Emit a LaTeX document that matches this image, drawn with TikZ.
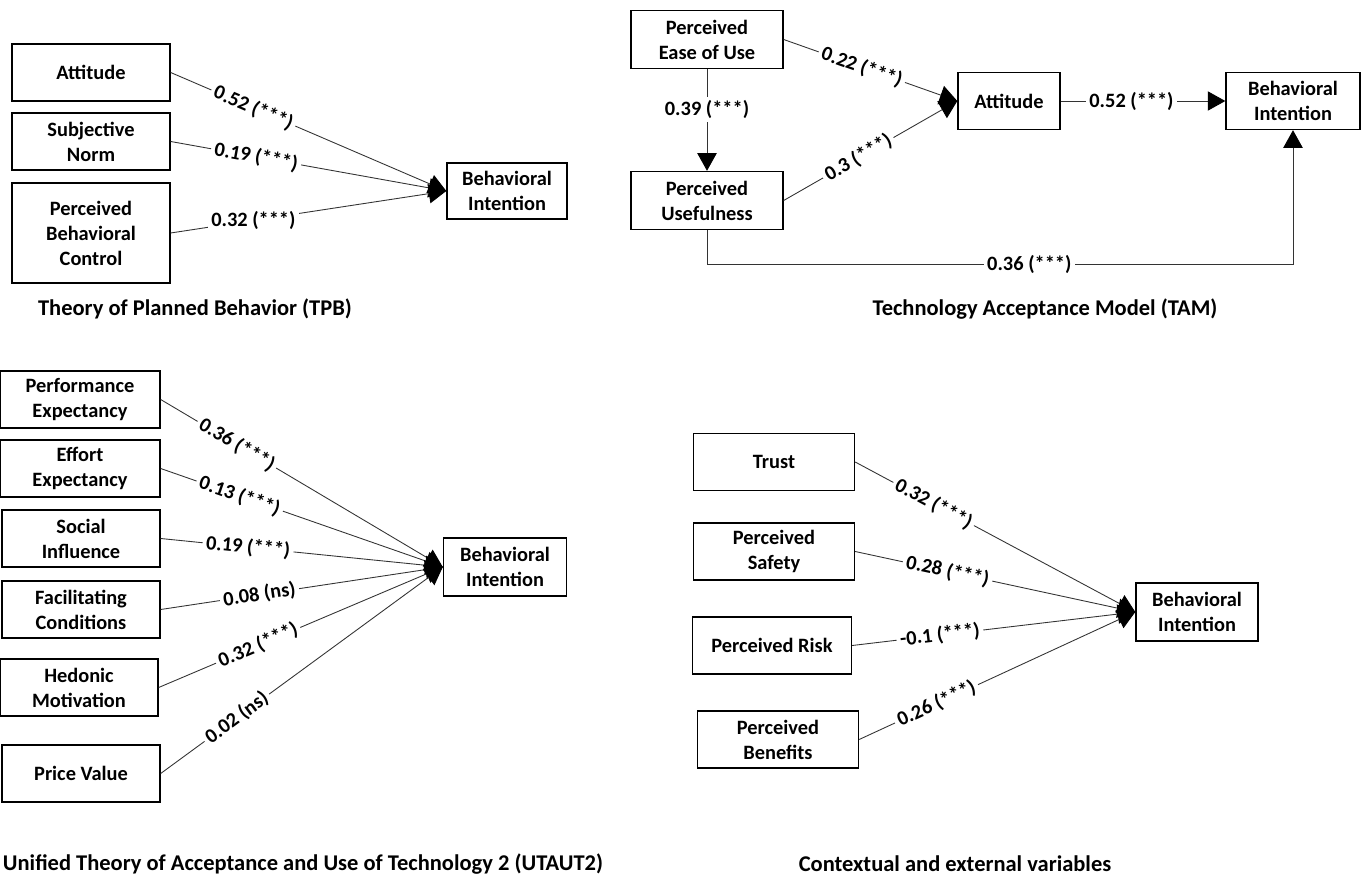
\documentclass[tikz,border=0pt]{standalone}
\usepackage{fontspec}
\setmainfont{Carlito}
\usetikzlibrary{arrows.meta}

\tikzset{
  var/.style={draw, line width=0.8pt, align=center, inner sep=0pt,
    minimum width=3.16cm, minimum height=1.14cm},
  bi/.style={var, minimum width=2.42cm, minimum height=1.14cm},
  coef/.style={fill=white, inner sep=2pt},
  caption/.style={font=\bfseries\fontsize{12.8}{15}\selectfont},
  link/.style={draw=black!80, line width=0.5pt, -{Triangle[length=10pt,width=11pt,black]}}
}

\begin{document}
\begin{tikzpicture}[x=0.02cm, y=-0.02cm, font=\bfseries\fontsize{11.6}{14.2}\selectfont]
 \useasboundingbox (0,0) rectangle (1363,878);

 % Theory of Planned Behavior
 \node[var] (att) at (91,72.5) {Attitude};
 \node[var] (sn)  at (91,141.5) {Subjective\\Norm};
 \node[var, minimum height=2cm] (pbc) at (91,233) {Perceived\\Behavioral\\Control};
 \node[bi, minimum width=2.4cm, minimum height=1.12cm] (tpbbi) at (507,191) {Behavioral\\Intention};
 \node[caption] (tpbtitle) at (195,309) {Theory of Planned Behavior (TPB)};

 \draw [link] (att.east) -- node [coef, sloped, pos=0.3] {0.52 (***)} (tpbbi.west);
 \draw [link] (sn.east)  -- node [coef, sloped, pos=0.31] {0.19 (***)} (tpbbi.west);
 \draw [link] (pbc.east) -- node [coef, pos=0.3] {0.32 (***)} (tpbbi.west);

 % Technology Acceptance Model
 \node[var, minimum width=3.04cm, minimum height=1.16cm] (peou) at (707,39.5) {Perceived\\Ease of Use};
 \node[var, minimum width=3.04cm, minimum height=1.16cm] (pu) at (707,200.5) {Perceived\\Usefulness};
 \node[var, minimum width=2.04cm] (tamatt) at (1009,101) {Attitude};
 \node[bi, minimum width=2.68cm] (tambi) at (1293,101) {Behavioral\\Intention};
 \node[caption] (tamtitle) at (1045,309) {Technology Acceptance Model (TAM)};

 \draw [link] (peou.south) -- node [coef, pos=0.4] {0.39 (***)} (pu.north);
 \draw [link] (peou.east) -- node [coef, sloped, pos=0.45] {0.22 (***)} (tamatt.west);
 \draw [link] (pu.east) -- node [coef, sloped, pos=0.43] {0.3 (***)} (tamatt.west);
 \draw [link] (tamatt.east) -- node [coef, pos=0.43] {0.52 (***)} (tambi.west);
 \draw [link] (pu.south) -- ++(0,34) -| node [coef, pos=0.275] {0.36 (***)} (tambi.south);

 % UTAUT2
 \node[var, minimum width=3.2cm] (pe) at (80,399.5) {Performance\\Expectancy};
 \node[var, minimum width=3.2cm] (ee) at (80,468.5) {Effort\\Expectancy};
 \node[var] (si) at (81,538.5) {Social\\Influence};
 \node[var] (fc) at (81,609.5) {Facilitating\\Conditions};
 \node[var] (hm) at (79,687.5) {Hedonic\\Motivation};
 \node[var] (pv) at (81,773.5) {Price Value};
 \node[bi, minimum width=2.46cm, minimum height=1.16cm] (utbi) at (505,567) {Behavioral\\Intention};
 \node[caption] (uttitle) at (303,864) {Unified Theory of Acceptance and Use of Technology 2 (UTAUT2)};

 \draw [link] (pe.east) -- node [coef, sloped, pos=0.27] {0.36 (***)} (utbi.west);
 \draw [link] (ee.east) -- node [coef, sloped, pos=0.28] {0.13 (***)} (utbi.west);
 \draw [link] (si.east) -- node [coef, sloped, pos=0.31] {0.19 (***)} (utbi.west);
 \draw [link] (fc.east) -- node [coef, sloped, pos=0.35] {0.08 (ns)} (utbi.west);
 \draw [link] (hm.east) -- node [coef, sloped, pos=0.35] {0.32 (***)} (utbi.west);
 \draw [link] (pv.east) -- node [coef, sloped, pos=0.27] {0.02 (ns)} (utbi.west);

 % Contextual and external variables
 \node[var, minimum width=3.22cm] (tr) at (774,462) {Trust};
 \node[var, minimum width=3.22cm] (ps) at (774,551.5) {Perceived\\Safety};
 \node[var, minimum width=3.18cm] (pr) at (772,645.5) {Perceived Risk};
 \node[var, minimum width=3.22cm] (pben) at (778,739.5) {Perceived\\Benefits};
 \node[bi, minimum width=2.44cm, minimum height=1.16cm] (cxbi) at (1197,612) {Behavioral\\Intention};
 \node[caption] (cxtitle) at (955,864) {Contextual and external variables};

 \draw [link] (tr.east) -- node [coef, sloped, pos=0.28] {0.32 (***)} (cxbi.west);
 \draw [link] (ps.east) -- node [coef, sloped, pos=0.33] {0.28 (***)} (cxbi.west);
 \draw [link] (pr.east) -- node [coef, sloped, pos=0.31] {-0.1 (***)} (cxbi.west);
 \draw [link] (pben.east) -- node [coef, sloped, pos=0.28] {0.26 (***)} (cxbi.west);

\end{tikzpicture}
\end{document}
